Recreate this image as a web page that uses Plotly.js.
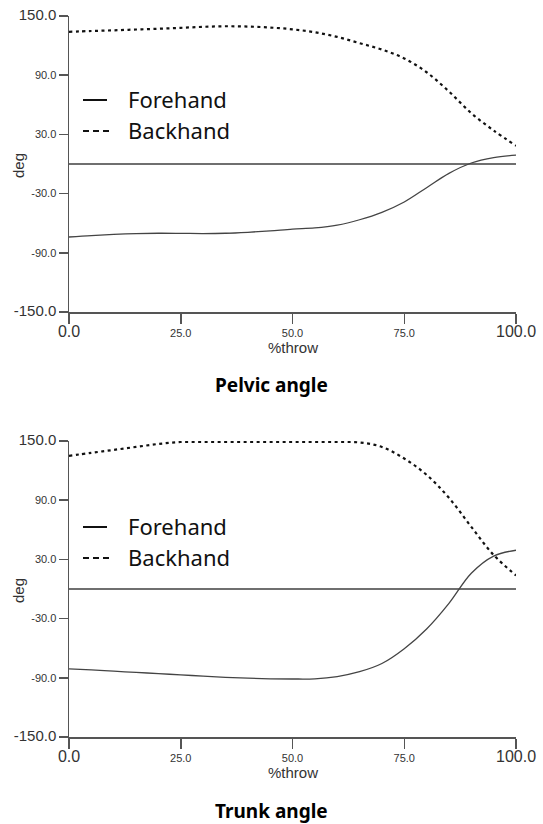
<!DOCTYPE html>
<html>
<head>
<meta charset="utf-8">
<script src="https://cdn.plot.ly/plotly-3.0.1.min.js"></script>
<style>html,body{margin:0;padding:0;background:#fff;}#chart{width:543px;height:824px;}</style>
</head>
<body>
<div id="chart"></div>
<script>
// %throw sample points
const throwPct = [0,5,10,15,20,25,30,35,40,45,50,55,60,65,70,75,80,85,90,95,100];

// Pelvic angle (deg)
const pelvicForehand = [-74,-72.5,-71.3,-70.5,-70.2,-70.3,-70.5,-70.2,-69.2,-67.8,-66,-64.8,-62,-56.5,-49,-38.5,-24,-9.5,1,6.5,9];
const pelvicBackhand = [134,134.8,135.5,136.3,137.1,138,139,139.6,139.3,138.3,136.5,133.5,128.8,122.5,116,107,93,73.5,51.5,34,18.5];

// Trunk angle (deg)
const trunkForehand = [-81,-82,-83.3,-84.5,-85.8,-87,-88.3,-89.5,-90.4,-91,-91.2,-91,-88.7,-83.8,-75.5,-60.5,-40.5,-14.5,16,33.4,39.3];
const trunkBackhand = [135,138,141,144,147,149,149,149,149,149,149,149,149,148.5,144,132.2,115.7,92.4,63,34.4,13.8];

const seriesNames = ['Forehand','Backhand'];
const panelTitles = ['Pelvic angle','Trunk angle'];
const xTickVals = [0,25,50,75,100];
const xTickText = ['<span style="font-size:16px">0.0</span>','25.0','50.0','75.0','<span style="font-size:16px">100.0</span>'];
const yTickVals = [-150,-90,-30,30,90,150];
const yTickText = ['<span style="font-size:15px">-150.0</span>','-90.0','-30.0','30.0','90.0','<span style="font-size:15px">150.0</span>'];

const W = 543, H = 824;
const px = v => v / W;
const py = v => 1 - v / H;

const fhLine = {color:'#444', width:1.3, shape:'spline', smoothing:1};
const bhLine = {color:'#111', width:2.2, dash:'3px,3.5px', shape:'spline', smoothing:1};

const traces = [
  {x:throwPct, y:pelvicForehand, name:seriesNames[0], mode:'lines', line:fhLine, xaxis:'x', yaxis:'y', showlegend:false},
  {x:throwPct, y:pelvicBackhand, name:seriesNames[1], mode:'lines', line:bhLine, xaxis:'x', yaxis:'y', showlegend:false},
  {x:throwPct, y:trunkForehand, name:seriesNames[0], mode:'lines', line:fhLine, xaxis:'x2', yaxis:'y2', showlegend:false},
  {x:throwPct, y:trunkBackhand, name:seriesNames[1], mode:'lines', line:bhLine, xaxis:'x2', yaxis:'y2', showlegend:false}
];

const tickFont = {family:'Arial, "Liberation Sans", sans-serif', size:11, color:'#333'};
function xAxis(anchor, dom){
  return {domain:dom, anchor:anchor, range:[0,100], tickmode:'array', tickvals:xTickVals, ticktext:xTickText,
    ticks:'outside', ticklen:10, tickwidth:1.5, tickcolor:'#555', showline:true, linecolor:'#555', linewidth:1.5,
    showgrid:false, zeroline:false, tickfont:tickFont, fixedrange:true};
}
function yAxis(anchor, dom){
  return {domain:dom, anchor:anchor, range:[-150,150], tickmode:'array', tickvals:yTickVals, ticktext:yTickText,
    ticks:'outside', ticklen:9, tickwidth:1.5, tickcolor:'#555', showline:true, linecolor:'#555', linewidth:1.5,
    showgrid:false, zeroline:true, zerolinecolor:'#6f6f6f', zerolinewidth:1.8, tickfont:tickFont, fixedrange:true};
}

const xDom = [px(69), px(516)];
const annFont = {family:'Arial, "Liberation Sans", sans-serif', size:15, color:'#333'};
const legFont = {family:'"Noto Sans", sans-serif', size:22, color:'#111'};
const titleFont = {family:'"Noto Sans", sans-serif', size:19, color:'#000'};

const annotations = [];
const shapes = [];
function ann(x, y, text, font, extra){
  annotations.push(Object.assign({xref:'paper', yref:'paper', x:px(x), y:py(y), text:text, showarrow:false,
    xanchor:'center', yanchor:'middle', font:font}, extra || {}));
}
[0,425].forEach((off,i) => {
  ann(18, 166+off, 'deg', annFont, {textangle:-90});
  ann(293, 347.5+off, '%throw', annFont);
  ann(271, 385+off+(i?1:0), '<b>'+panelTitles[i]+'</b>', titleFont);
  const lo = off + (i?2:0);
  ann(126, 99+lo, seriesNames[0], legFont, {xanchor:'left'});
  ann(126, 130+lo, seriesNames[1], legFont, {xanchor:'left'});
  shapes.push({type:'line', xref:'paper', yref:'paper', x0:px(83), x1:px(107), y0:py(100+lo), y1:py(100+lo), line:{color:'#111', width:2}});
  shapes.push({type:'line', xref:'paper', yref:'paper', x0:px(83), x1:px(113), y0:py(131+lo), y1:py(131+lo), line:{color:'#111', width:2, dash:'6px,4px'}});
});

const layout = {
  width:W, height:H, margin:{l:0, r:0, t:0, b:0},
  paper_bgcolor:'#fff', plot_bgcolor:'#fff', showlegend:false,
  xaxis: xAxis('y', xDom),
  yaxis: yAxis('x', [py(312), py(16)]),
  xaxis2: xAxis('y2', xDom),
  yaxis2: yAxis('x2', [py(737), py(441)]),
  annotations: annotations,
  shapes: shapes
};

Plotly.newPlot('chart', traces, layout, {staticPlot:true, displayModeBar:false});
</script>
</body>
</html>
